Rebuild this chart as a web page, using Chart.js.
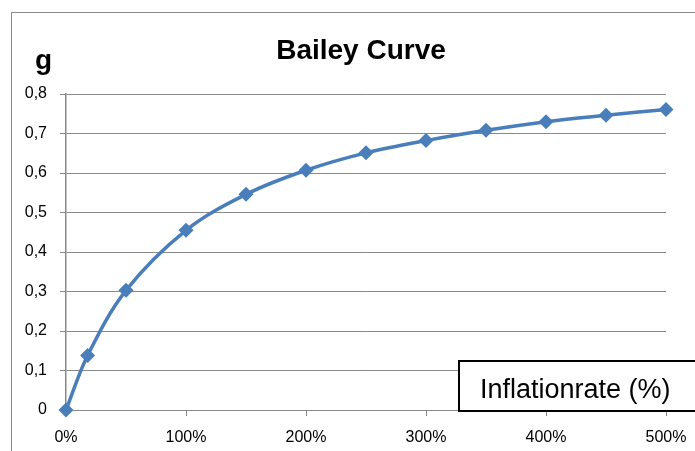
<!DOCTYPE html>
<html>
<head>
<meta charset="utf-8">
<script src="https://cdn.jsdelivr.net/npm/chart.js@4"></script>
<style>
  html, body { margin: 0; padding: 0; background: #ffffff; }
  #wrap { width: 695px; height: 451px; }
</style>
</head>
<body>
<div id="wrap"><canvas id="baileyChart" width="695" height="451"></canvas></div>
<script>
// Bailey curve data
const inflationRates = [0, 18, 50, 100, 150, 200, 250, 300, 350, 400, 450, 500];
const gValues = [0, 0.138, 0.303, 0.455, 0.546, 0.607, 0.651, 0.682, 0.708, 0.730, 0.746, 0.761];
const xTicks = [0, 100, 200, 300, 400, 500];
const yTicks = [0, 0.1, 0.2, 0.3, 0.4, 0.5, 0.6, 0.7, 0.8];

const chartTitle = 'Bailey Curve';
const yAxisTitle = 'g';
const xAxisTitle = 'Inflationrate (%)';

const gridColor = '#888888';
const lineColor = '#4a7ebb';
const fontFamily = '"Liberation Sans", Arial, sans-serif';

// Title, axis labels, outer frame and the text box
const decorations = {
    id: 'decorations',
    afterDraw(chart) {
        const ctx = chart.ctx;
        ctx.save();

        // outer chart frame (runs off the right and bottom edge)
        ctx.strokeStyle = '#8a8a8a';
        ctx.lineWidth = 1;
        ctx.strokeRect(11.5, 12.5, 800, 800);

        // title
        ctx.fillStyle = '#000000';
        ctx.font = 'bold 28px ' + fontFamily;
        ctx.textAlign = 'center';
        ctx.textBaseline = 'alphabetic';
        ctx.fillText(chartTitle, 361, 59);

        // y axis title
        ctx.font = 'bold 28px ' + fontFamily;
        ctx.textAlign = 'left';
        ctx.fillText(yAxisTitle, 35, 69);

        // x axis title in a box
        ctx.fillStyle = '#ffffff';
        ctx.fillRect(459, 360, 300, 52);
        ctx.strokeStyle = '#000000';
        ctx.lineWidth = 2;
        ctx.strokeRect(459, 361, 300, 50);
        ctx.fillStyle = '#000000';
        ctx.font = '27px ' + fontFamily;
        ctx.textAlign = 'left';
        ctx.fillText(xAxisTitle, 480, 398);

        ctx.restore();
    }
};

const ctx = document.getElementById('baileyChart').getContext('2d');
new Chart(ctx, {
    type: 'line',
    data: {
        datasets: [{
            data: inflationRates.map((x, i) => ({ x: x, y: gValues[i] })),
            borderColor: lineColor,
            backgroundColor: lineColor,
            borderWidth: 3.5,
            tension: 0.35,
            fill: false,
            clip: false,
            pointStyle: 'rectRot',
            pointRadius: 7.5,
            pointBackgroundColor: lineColor,
            pointBorderColor: lineColor,
            pointBorderWidth: 0
        }]
    },
    options: {
        responsive: false,
        animation: false,
        devicePixelRatio: 1,
        layout: {
            padding: { top: 94, right: 29, bottom: 0, left: 0 }
        },
        plugins: {
            legend: { display: false },
            tooltip: { enabled: false },
            title: { display: false }
        },
        scales: {
            x: {
                type: 'linear',
                min: 0,
                max: 500,
                afterFit: (scale) => {
                    scale.height = 41;
                    scale.paddingLeft = 0;
                    scale.paddingRight = 0;
                },
                afterBuildTicks: (scale) => {
                    scale.ticks = xTicks.map(v => ({ value: v }));
                },
                grid: {
                    drawOnChartArea: false,
                    drawTicks: true,
                    tickLength: 6,
                    color: gridColor
                },
                border: { display: true, color: gridColor, width: 1 },
                ticks: {
                    color: '#000000',
                    padding: 12,
                    maxRotation: 0,
                    font: { family: fontFamily, size: 16 },
                    callback: (value) => value + '%'
                }
            },
            y: {
                min: 0,
                max: 0.8,
                afterFit: (scale) => {
                    scale.width = 66;
                    scale.paddingTop = 0;
                    scale.paddingBottom = 0;
                },
                afterBuildTicks: (scale) => {
                    scale.ticks = yTicks.map(v => ({ value: v }));
                },
                grid: {
                    drawTicks: true,
                    tickLength: 6,
                    color: gridColor,
                    lineWidth: 1
                },
                border: { display: true, color: gridColor, width: 1.5 },
                ticks: {
                    color: '#000000',
                    padding: 13,
                    font: { family: fontFamily, size: 16 },
                    callback: (value) => value === 0 ? '0' : value.toFixed(1).replace('.', ',')
                }
            }
        }
    },
    plugins: [decorations]
});
</script>
</body>
</html>
